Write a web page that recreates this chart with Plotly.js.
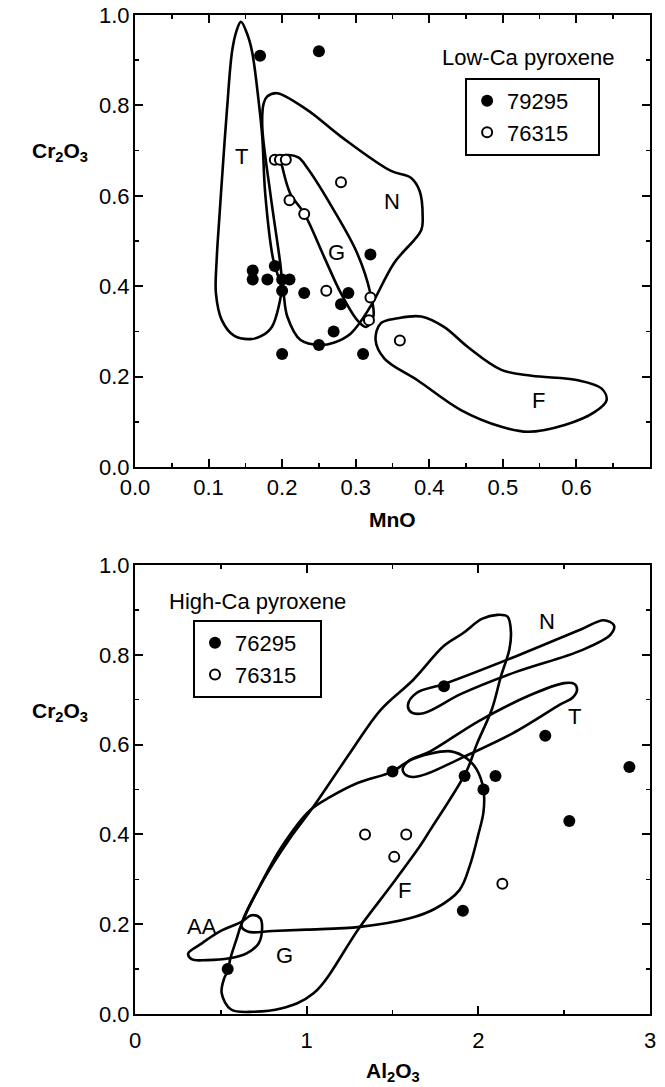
<!DOCTYPE html>
<html>
<head>
<meta charset="utf-8">
<script src="https://cdn.plot.ly/plotly-3.0.1.min.js"></script>
<style>html,body{margin:0;padding:0;background:#fff;}#chart{width:665px;height:1087px;}</style>
</head>
<body>
<div id="chart"></div>
<script>
// ---------- Top panel: Low-Ca pyroxene (MnO vs Cr2O3) ----------
const lowA_name = "79295";
const lowA_MnO   = [0.17, 0.25, 0.16, 0.16, 0.19, 0.18, 0.20, 0.21, 0.20, 0.23, 0.29, 0.28, 0.32, 0.27, 0.25, 0.20, 0.31];
const lowA_Cr2O3 = [0.91, 0.92, 0.435, 0.415, 0.445, 0.415, 0.415, 0.415, 0.39, 0.385, 0.385, 0.36, 0.47, 0.30, 0.27, 0.25, 0.25];
const lowB_name = "76315";
const lowB_MnO   = [0.19, 0.197, 0.205, 0.21, 0.23, 0.28, 0.26, 0.32, 0.318, 0.36];
const lowB_Cr2O3 = [0.68, 0.68, 0.68, 0.59, 0.56, 0.63, 0.39, 0.375, 0.325, 0.28];

// field outlines (top)
const fieldT_MnO   = [0.144,0.152,0.159,0.168,0.173,0.177,0.188,0.195,0.199,0.196,0.186,0.172,0.157,0.135,0.118,0.110,0.111,0.115,0.120,0.125,0.132,0.138,0.144];
const fieldT_Cr2O3 = [0.985,0.96,0.92,0.81,0.73,0.605,0.458,0.42,0.395,0.36,0.31,0.29,0.283,0.29,0.325,0.384,0.458,0.56,0.679,0.79,0.92,0.965,0.985];
const fieldN_MnO   = [0.193,0.234,0.280,0.348,0.375,0.387,0.391,0.389,0.352,0.320,0.293,0.270,0.252,0.225,0.207,0.202,0.200,0.198,0.184,0.173,0.175,0.180,0.193];
const fieldN_Cr2O3 = [0.827,0.79,0.731,0.655,0.64,0.61,0.554,0.524,0.451,0.355,0.295,0.275,0.27,0.281,0.333,0.384,0.405,0.443,0.605,0.753,0.805,0.82,0.827];
const fieldG_MnO   = [0.205,0.222,0.235,0.270,0.302,0.320,0.324,0.314,0.302,0.280,0.257,0.230,0.211,0.200,0.197,0.205];
const fieldG_Cr2O3 = [0.69,0.685,0.66,0.569,0.473,0.384,0.333,0.31,0.325,0.384,0.465,0.561,0.605,0.665,0.685,0.69];
const fieldF_MnO   = [0.327,0.334,0.357,0.389,0.420,0.452,0.498,0.539,0.602,0.634,0.641,0.625,0.584,0.534,0.498,0.443,0.384,0.339,0.327];
const fieldF_Cr2O3 = [0.281,0.318,0.329,0.333,0.31,0.266,0.215,0.202,0.192,0.174,0.148,0.122,0.093,0.078,0.089,0.126,0.192,0.24,0.281];
const topLabels = ["T","N","G","F"];
const topLabelX = [0.145, 0.349, 0.274, 0.549];
const topLabelY = [0.686, 0.587, 0.475, 0.147];

// ---------- Bottom panel: High-Ca pyroxene (Al2O3 vs Cr2O3) ----------
const highA_name = "76295";
const highA_Al2O3 = [0.54, 1.80, 1.50, 1.92, 2.10, 2.03, 2.39, 2.88, 2.53, 1.91];
const highA_Cr2O3 = [0.10, 0.73, 0.54, 0.53, 0.53, 0.50, 0.62, 0.55, 0.43, 0.23];
const highB_name = "76315";
const highB_Al2O3 = [1.34, 1.58, 1.51, 2.14];
const highB_Cr2O3 = [0.40, 0.40, 0.35, 0.29];

const hN_Al2O3 = [1.59,1.64,1.80,2.22,2.60,2.73,2.79,2.77,2.60,2.22,1.90,1.68,1.61,1.59];
const hN_Cr2O3 = [0.688,0.715,0.735,0.797,0.857,0.877,0.866,0.845,0.81,0.762,0.713,0.67,0.672,0.688];
const hT_Al2O3 = [1.56,1.60,1.72,2.00,2.30,2.50,2.56,2.575,2.55,2.48,2.20,1.90,1.70,1.62,1.57,1.56];
const hT_Cr2O3 = [0.547,0.565,0.585,0.652,0.71,0.737,0.735,0.722,0.705,0.69,0.625,0.57,0.535,0.528,0.535,0.547];
const hG_Al2O3 = [0.544,0.553,0.59,0.62,0.75,0.90,1.04,1.25,1.43,1.62,1.80,1.91,2.02,2.11,2.17,2.19,2.18,2.13,2.08,1.99,1.93,1.72,1.66,1.50,1.31,1.04,0.85,0.69,0.56,0.505,0.52,0.544];
const hG_Cr2O3 = [0.098,0.12,0.165,0.20,0.30,0.39,0.462,0.58,0.677,0.744,0.82,0.848,0.88,0.889,0.885,0.85,0.811,0.75,0.68,0.60,0.54,0.41,0.374,0.29,0.194,0.046,0.012,0.005,0.01,0.046,0.08,0.098];
const hF_Al2O3 = [1.50,1.60,1.72,1.84,1.93,1.99,2.03,2.03,2.00,1.95,1.89,1.75,1.60,1.31,1.00,0.80,0.66,0.62,0.64,0.72,0.85,1.02,1.14,1.30,1.50];
const hF_Cr2O3 = [0.54,0.565,0.58,0.585,0.57,0.545,0.50,0.45,0.40,0.33,0.276,0.235,0.213,0.194,0.188,0.185,0.183,0.195,0.22,0.28,0.37,0.454,0.484,0.515,0.54];
const hAA_Al2O3 = [0.31,0.38,0.50,0.62,0.68,0.73,0.74,0.72,0.65,0.55,0.42,0.33,0.31];
const hAA_Cr2O3 = [0.135,0.155,0.185,0.205,0.22,0.213,0.187,0.157,0.135,0.124,0.12,0.122,0.135];
const botLabels = ["N","T","F","G","AA"];
const botLabelX = [2.40, 2.56, 1.57, 0.87, 0.39];
const botLabelY = [0.874, 0.662, 0.276, 0.131, 0.194];

// ---------- build ----------
const FONT = "Liberation Sans, Arial, Helvetica, sans-serif";
const lineStyle = {color:"#000", width:2.6, shape:"spline", smoothing:1};
function field(x, y, xa, ya){
  return {x:x, y:y, xaxis:xa, yaxis:ya, type:"scatter", mode:"lines", line:lineStyle,
          showlegend:false, hoverinfo:"skip", cliponaxis:false};
}
const filledMarker = {color:"#000", size:12, symbol:"circle"};
const openMarker = {color:"#fff", size:10, symbol:"circle", line:{color:"#000", width:2}};
const pad4 = "\u00a0\u00a0\u00a0\u00a0";
const pad3 = "\u00a0\u00a0\u00a0";

const data = [
  field(fieldT_MnO, fieldT_Cr2O3, "x", "y"),
  field(fieldN_MnO, fieldN_Cr2O3, "x", "y"),
  field(fieldG_MnO, fieldG_Cr2O3, "x", "y"),
  field(fieldF_MnO, fieldF_Cr2O3, "x", "y"),
  {x:lowA_MnO, y:lowA_Cr2O3, xaxis:"x", yaxis:"y", type:"scatter", mode:"markers", name:lowA_name + pad4, marker:filledMarker, legend:"legend", cliponaxis:false},
  {x:lowB_MnO, y:lowB_Cr2O3, xaxis:"x", yaxis:"y", type:"scatter", mode:"markers", name:lowB_name + pad4, marker:openMarker, legend:"legend", cliponaxis:false},
  field(hN_Al2O3, hN_Cr2O3, "x2", "y2"),
  field(hT_Al2O3, hT_Cr2O3, "x2", "y2"),
  field(hG_Al2O3, hG_Cr2O3, "x2", "y2"),
  field(hF_Al2O3, hF_Cr2O3, "x2", "y2"),
  field(hAA_Al2O3, hAA_Cr2O3, "x2", "y2"),
  {x:highA_Al2O3, y:highA_Cr2O3, xaxis:"x2", yaxis:"y2", type:"scatter", mode:"markers", name:highA_name + pad3, marker:filledMarker, legend:"legend2", cliponaxis:false},
  {x:highB_Al2O3, y:highB_Cr2O3, xaxis:"x2", yaxis:"y2", type:"scatter", mode:"markers", name:highB_name + pad3, marker:openMarker, legend:"legend2", cliponaxis:false}
];

function axisBase(extra){
  return Object.assign({
    showline:true, linecolor:"#000", linewidth:2, mirror:"ticks",
    ticks:"inside", ticklen:8, tickwidth:2, tickcolor:"#000",
    showgrid:false, zeroline:false, fixedrange:true,
    tickfont:{family:FONT, size:22, color:"#000"}
  }, extra);
}

const annotations = [];
function ann(xref, yref, x, y, text, font){
  annotations.push({xref:xref, yref:yref, x:x, y:y, text:text, showarrow:false,
    xanchor:"center", yanchor:"middle", font:font});
}
const labelFont = {family:FONT, size:22, color:"#000"};
topLabels.forEach((t,i)=>ann("x", "y", topLabelX[i], topLabelY[i], t, labelFont));
botLabels.forEach((t,i)=>ann("x2", "y2", botLabelX[i], botLabelY[i], t, labelFont));
const titleFont = {family:FONT, size:21, color:"#000"};
ann("paper", "paper", -0.146, 0.863, "<b>Cr<sub>2</sub>O<sub>3</sub></b>", titleFont);
ann("paper", "paper", -0.146, 0.302, "<b>Cr<sub>2</sub>O<sub>3</sub></b>", titleFont);
ann("paper", "paper", 0.5, 0.4945, "<b>MnO</b>", titleFont);
ann("paper", "paper", 0.5, -0.058, "<b>Al<sub>2</sub>O<sub>3</sub></b>", titleFont);
ann("paper", "paper", 0.763, 0.957, "Low-Ca pyroxene", labelFont);
ann("paper", "paper", 0.238, 0.4127, "High-Ca pyroxene", labelFont);

const legendStyle = {
  bgcolor:"rgba(255,255,255,1)", bordercolor:"#000", borderwidth:2,
  font:{family:FONT, size:22, color:"#000"}, xanchor:"left", yanchor:"top",
  itemwidth:30, tracegroupgap:0, itemclick:false, itemdoubleclick:false
};

const layout = {
  width:665, height:1087,
  margin:{l:135, r:15, t:15, b:73},
  paper_bgcolor:"#fff", plot_bgcolor:"#fff",
  font:{family:FONT, color:"#000"},
  showlegend:true,
  xaxis: axisBase({domain:[0,1], anchor:"y", range:[0,0.7], dtick:0.1, tick0:0, tickformat:".1f",
    minor:{ticks:"inside", ticklen:4, tickwidth:1.5, dtick:0.05, tick0:0, tickcolor:"#000"}}),
  yaxis: axisBase({domain:[0.5475,1], anchor:"x", range:[0,1], dtick:0.2, tick0:0, tickformat:".1f",
    ticklabelstandoff:-1,
    minor:{ticks:"inside", ticklen:4, tickwidth:1.5, dtick:0.1, tick0:0, tickcolor:"#000"}}),
  xaxis2: axisBase({domain:[0,1], anchor:"y2", range:[0,3], dtick:1, tick0:0, ticklabelstandoff:6,
    minor:{ticks:"inside", ticklen:4, tickwidth:1.5, dtick:0.5, tick0:0, tickcolor:"#000"}}),
  yaxis2: axisBase({domain:[0,0.4494], anchor:"x2", range:[0,1], dtick:0.2, tick0:0, tickformat:".1f",
    ticklabelstandoff:-1,
    minor:{ticks:"inside", ticklen:4, tickwidth:1.5, dtick:0.1, tick0:0, tickcolor:"#000"}}),
  legend: Object.assign({x:0.641, y:0.937}, legendStyle),
  legend2: Object.assign({x:0.1126, y:0.3944}, legendStyle),
  annotations: annotations
};

Plotly.newPlot("chart", data, layout, {staticPlot:true, displayModeBar:false});
</script>
</body>
</html>
